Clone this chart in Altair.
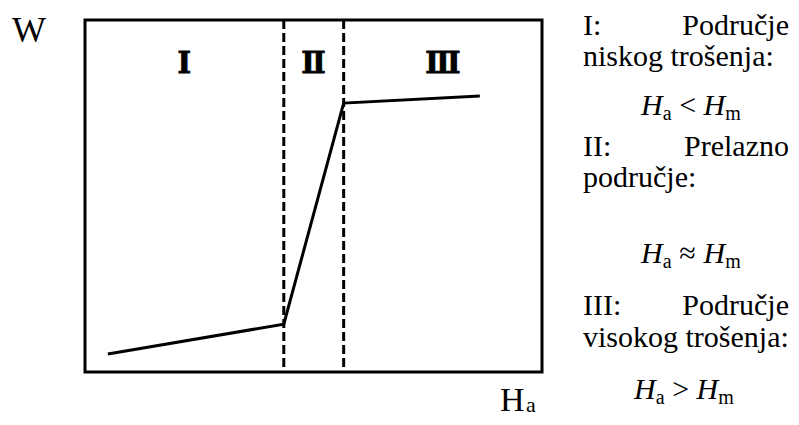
import altair as alt
import pandas as pd

# ---- data ----
curve_x = [5.0, 43.5, 56.6, 86.4]      # Ha (relative units)
curve_y = [5.1, 13.6, 76.4, 78.4]      # W (relative units)
boundaries = [43.5, 56.6]
region_labels = ["Ⅰ", "Ⅱ", "Ⅲ"]
region_x = [21.75, 50.0, 78.3]
region_y = [87.5, 87.5, 87.5]

y_title = "W"
x_title_main = "H"
x_title_sub = "a"

desc_left = ["I:", "niskog trošenja:", "II:", "područje:", "III:", "visokog trošenja:"]
desc_right = ["Područje", "Prelazno", "Područje"]
relations = ["<", "≈", ">"]
sub_a, sub_m = "a", "m"

W, H = 457, 352
SERIF = "'Liberation Serif', 'Times New Roman', Times, serif"

xs = alt.Scale(domain=[0, 100])
ys = alt.Scale(domain=[0, 100])

curve_df = pd.DataFrame({"x": curve_x, "y": curve_y})
line = alt.Chart(curve_df).mark_line(color="black", strokeWidth=3).encode(
    x=alt.X("x:Q", scale=xs, axis=None),
    y=alt.Y("y:Q", scale=ys, axis=None),
)

rules = alt.Chart(pd.DataFrame({"b": boundaries})).mark_rule(
    color="black", strokeWidth=3, strokeDash=[9, 4]
).encode(x=alt.X("b:Q", scale=xs, axis=None))

numerals = alt.Chart(pd.DataFrame({"t": region_labels, "x": region_x, "y": region_y})).mark_text(
    font="'DejaVu Serif', serif", fontWeight="bold", fontSize=29, baseline="middle", align="center",
    color="black", stroke="black", strokeWidth=0.8
).encode(x=alt.X("x:Q", scale=xs, axis=None), y=alt.Y("y:Q", scale=ys, axis=None), text="t:N")


def txt(s, px, py, size, align="left", style="normal", weight="normal", font=SERIF):
    # px, py: page coordinates -> plot coordinates (plot origin at page 85, 20)
    return alt.Chart(pd.DataFrame({"t": [s]})).mark_text(
        align=align, baseline="alphabetic", fontSize=size, font=font,
        fontStyle=style, fontWeight=weight, color="black"
    ).encode(x=alt.value(px - 85), y=alt.value(py - 20), text="t:N")


layers = [line, rules, numerals]
# axis labels
layers.append(txt(y_title, 12, 42, 36))
layers.append(txt(x_title_main, 500, 411, 34))
layers.append(txt(x_title_sub, 526, 412, 22))

FS = 30
LX, RX = 583, 789
# justified description text
layers.append(txt(desc_left[0], LX, 35, FS))
layers.append(txt(desc_right[0], RX, 35, FS, align="right"))
layers.append(txt(desc_left[1], LX, 66, FS))
layers.append(txt(desc_left[2], LX, 156, FS))
layers.append(txt(desc_right[1], RX, 156, FS, align="right"))
layers.append(txt(desc_left[3], LX, 187, FS))
layers.append(txt(desc_left[4], LX, 315, FS))
layers.append(txt(desc_right[2], RX, 315, FS, align="right"))
layers.append(txt(desc_left[5], LX, 347, FS))


def relation(start, base, op):
    out = []
    x = start
    out.append(txt("H", x, base, FS, style="italic"))
    x += 21.7
    out.append(txt(sub_a, x, base + 5, 20))
    x += 8.9
    out.append(txt(op, x + 16, base, FS, align="center"))
    x += 32
    out.append(txt("H", x, base, FS, style="italic"))
    x += 21.7
    out.append(txt(sub_m, x, base + 5, 20))
    return out


layers += relation(641, 115, relations[0])
layers += relation(641, 263, relations[1])
layers += relation(634, 399, relations[2])

chart = alt.layer(*layers).properties(
    width=W, height=H,
    autosize=alt.AutoSizeParams(type="none"),
    padding={"left": 77, "top": 12, "right": 249, "bottom": 45},
).configure_view(stroke="black", strokeWidth=3)

chart.save("out.html", embed_options={"renderer": "svg", "actions": False})
